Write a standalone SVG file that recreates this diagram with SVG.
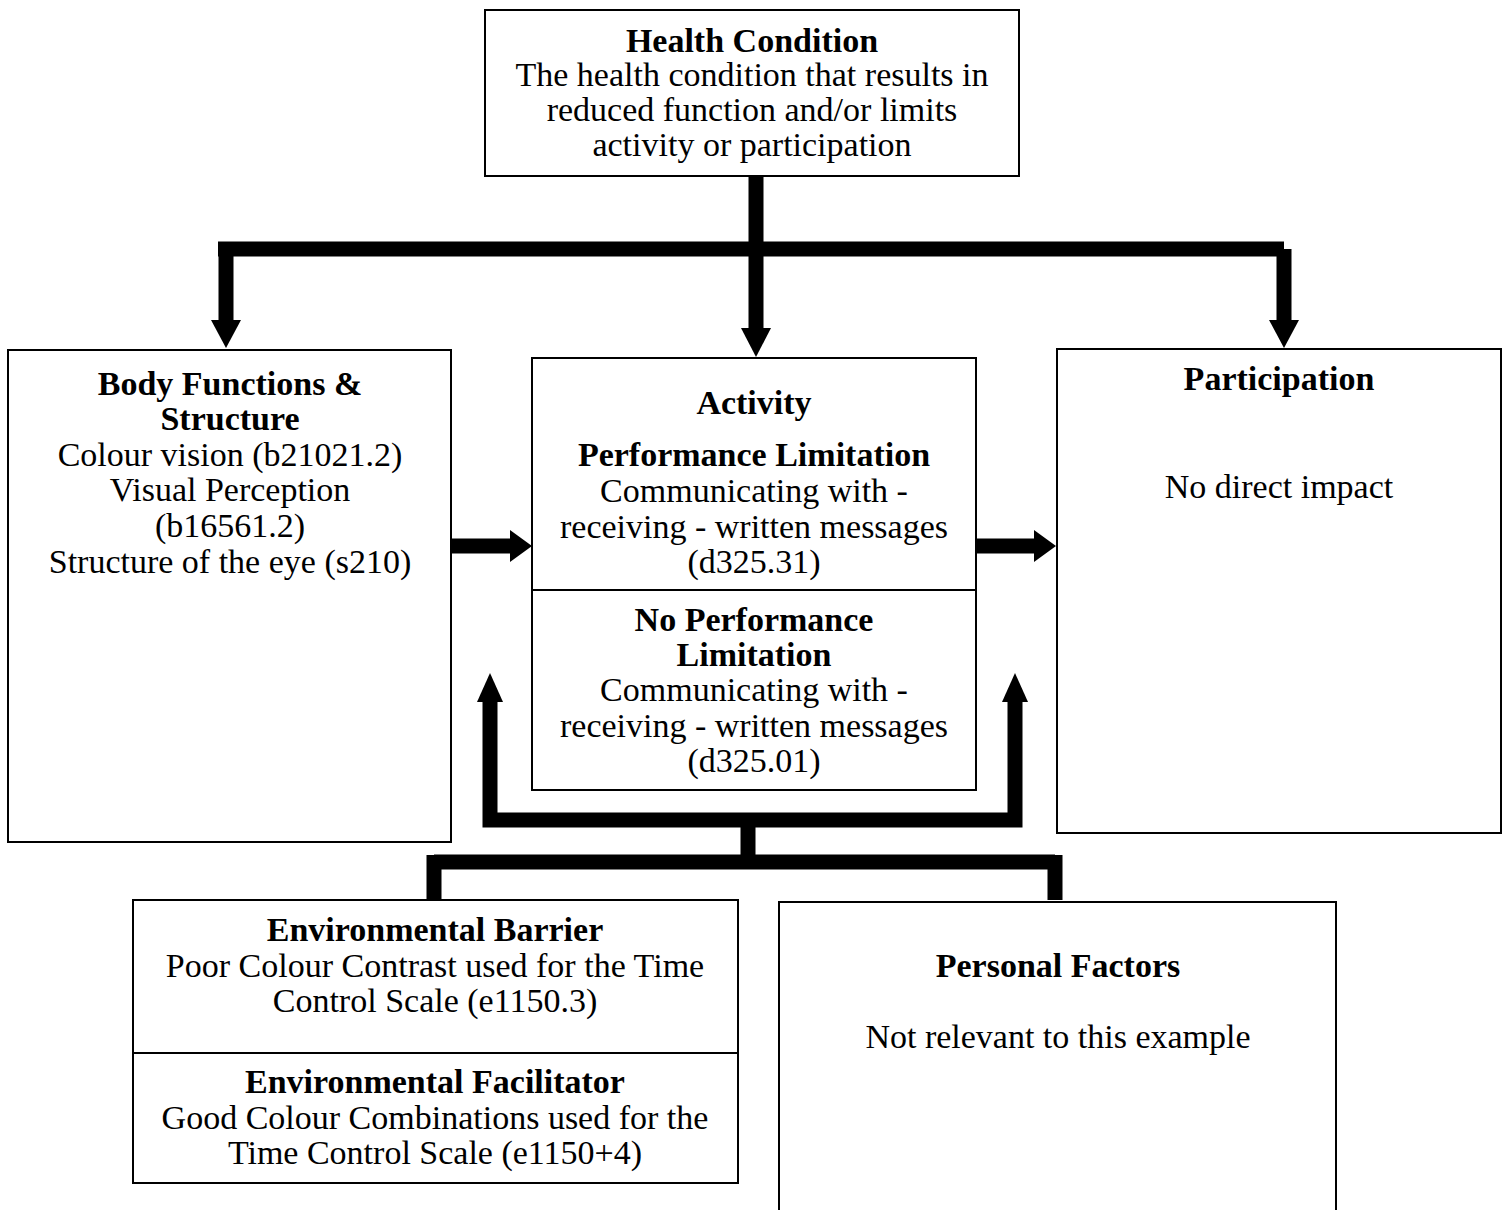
<svg xmlns="http://www.w3.org/2000/svg" width="1504" height="1210" viewBox="0 0 1504 1210">
<style>
rect.box{fill:#fff;stroke:#000;stroke-width:2}
line.div{stroke:#000;stroke-width:2}
text{font-family:"Liberation Serif","Times New Roman",serif;font-size:34px;fill:#000;text-anchor:middle}
text.b{font-weight:bold}
.conn{fill:none;stroke:#000;stroke-width:15;stroke-linejoin:miter;stroke-linecap:butt}
.head{fill:#000}
</style>
<rect width="1504" height="1210" fill="#fff"/>
<g id="connectors">
  <path class="conn" d="M756,176 V249 M218,249 H1284 M226,249 V322 M1284,249 V322 M756,249 V330"/>
  <polygon class="head" points="211,320 241,320 226,348"/>
  <polygon class="head" points="1269,320 1299,320 1284,348"/>
  <polygon class="head" points="741,328 771,328 756,357"/>
  <path class="conn" d="M452,546 H512 M976,546 H1034"/>
  <polygon class="head" points="510,530 532,546 510,562"/>
  <polygon class="head" points="1034,530 1056,546 1034,562"/>
  <path class="conn" d="M490,700 V820 H1015 V700 M748,820 V862 M434,862 H1055 M434,855 V900 M1055,855 V900"/>
  <polygon class="head" points="477,702 503,702 490,673"/>
  <polygon class="head" points="1002,702 1028,702 1015,673"/>
</g>
<g id="health">
  <rect class="box" x="485" y="10" width="534" height="166"/>
  <text x="752" y="52" class="b">Health Condition</text>
  <text x="752" y="86">The health condition that results in</text>
  <text x="752" y="121">reduced function and/or limits</text>
  <text x="752" y="156">activity or participation</text>
</g>
<g id="body">
  <rect class="box" x="8" y="350" width="443" height="492"/>
  <text x="230" y="395" class="b">Body Functions &amp;</text>
  <text x="230" y="430" class="b">Structure</text>
  <text x="230" y="466">Colour vision (b21021.2)</text>
  <text x="230" y="501">Visual Perception</text>
  <text x="230" y="537">(b16561.2)</text>
  <text x="230" y="573">Structure of the eye (s210)</text>
</g>
<g id="activity">
  <rect class="box" x="532" y="358" width="444" height="432"/>
  <line class="div" x1="532" y1="590" x2="976" y2="590"/>
  <text x="754" y="414" class="b">Activity</text>
  <text x="754" y="466" class="b">Performance Limitation</text>
  <text x="754" y="502">Communicating with -</text>
  <text x="754" y="538">receiving - written messages</text>
  <text x="754" y="573">(d325.31)</text>
  <text x="754" y="631" class="b">No Performance</text>
  <text x="754" y="666" class="b">Limitation</text>
  <text x="754" y="701">Communicating with -</text>
  <text x="754" y="737">receiving - written messages</text>
  <text x="754" y="772">(d325.01)</text>
</g>
<g id="participation">
  <rect class="box" x="1057" y="349" width="444" height="484"/>
  <text x="1279" y="390" class="b">Participation</text>
  <text x="1279" y="498">No direct impact</text>
</g>
<g id="environmental">
  <rect class="box" x="133" y="900" width="605" height="283"/>
  <line class="div" x1="133" y1="1053" x2="738" y2="1053"/>
  <text x="435" y="941" class="b">Environmental Barrier</text>
  <text x="435" y="977">Poor Colour Contrast used for the Time</text>
  <text x="435" y="1012">Control Scale (e1150.3)</text>
  <text x="435" y="1093" class="b">Environmental Facilitator</text>
  <text x="435" y="1129">Good Colour Combinations used for the</text>
  <text x="435" y="1164">Time Control Scale (e1150+4)</text>
</g>
<g id="personal">
  <rect class="box" x="779" y="902" width="557" height="330"/>
  <text x="1058" y="977" class="b">Personal Factors</text>
  <text x="1058" y="1048">Not relevant to this example</text>
</g>
</svg>
